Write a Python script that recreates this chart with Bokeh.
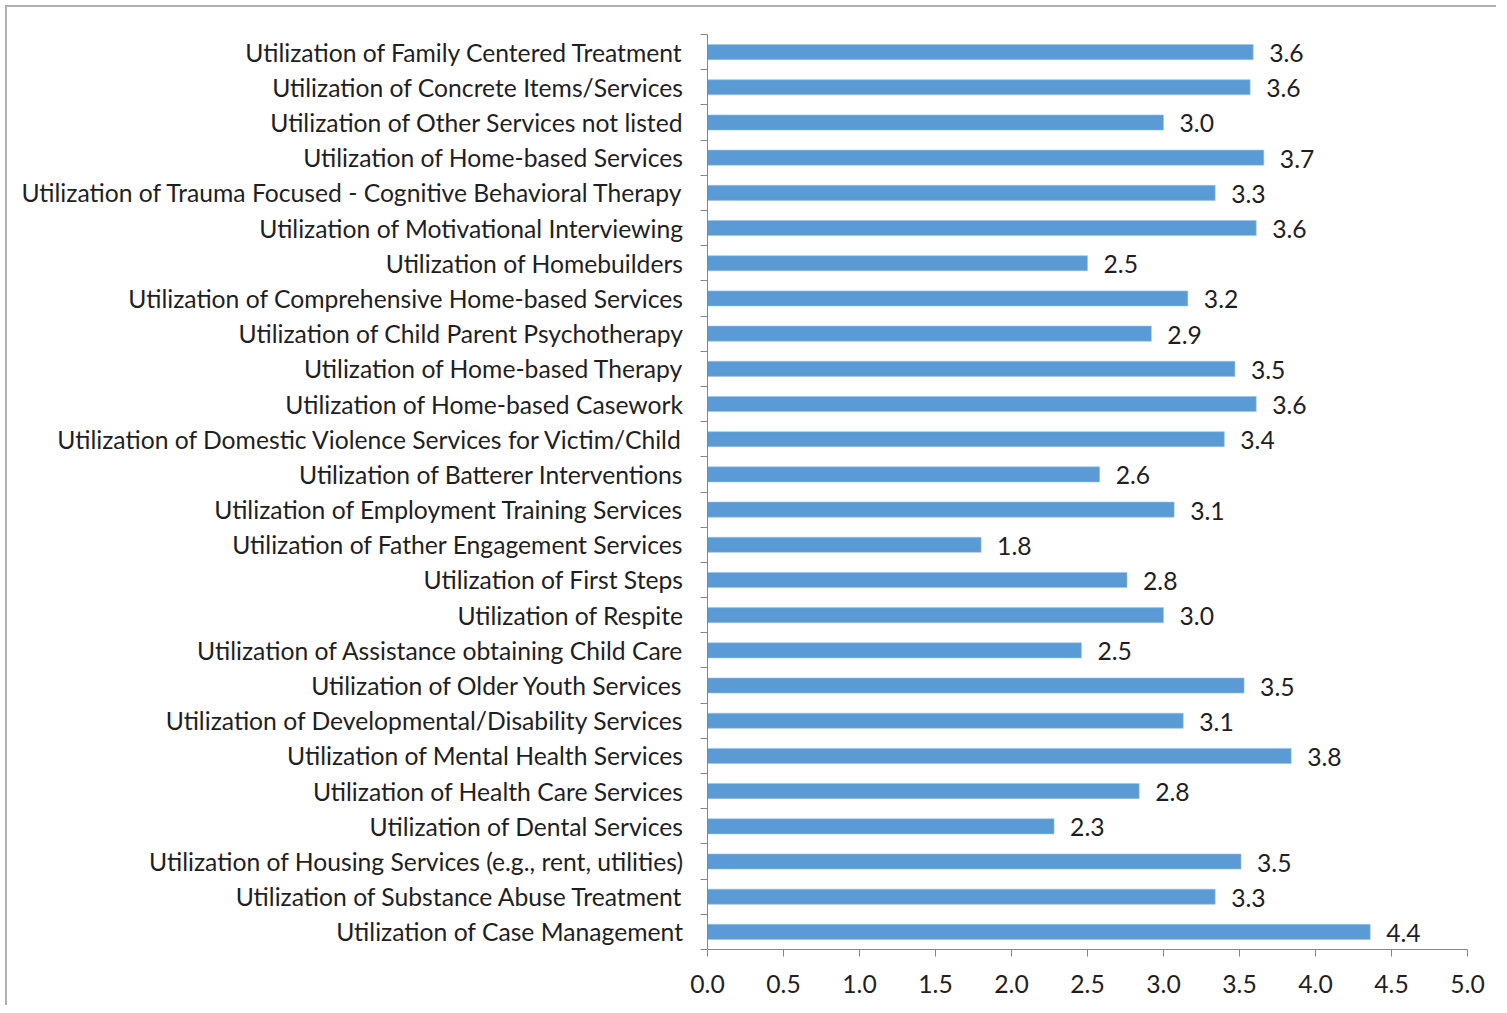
from bokeh.plotting import figure
from bokeh.models import ColumnDataSource, FixedTicker, Range1d
from bokeh.embed import file_html
from bokeh.resources import INLINE
from bokeh.core.properties import value

# Categories listed bottom to top
categories = [
    "Utilization of Case Management",
    "Utilization of Substance Abuse Treatment",
    "Utilization of Housing Services (e.g., rent, utilities)",
    "Utilization of Dental Services",
    "Utilization of Health Care Services",
    "Utilization of Mental Health Services",
    "Utilization of Developmental/Disability Services",
    "Utilization of Older Youth Services",
    "Utilization of Assistance obtaining Child Care",
    "Utilization of Respite",
    "Utilization of First Steps",
    "Utilization of Father Engagement Services",
    "Utilization of Employment Training Services",
    "Utilization of Batterer Interventions",
    "Utilization of Domestic Violence Services for Victim/Child",
    "Utilization of Home-based Casework",
    "Utilization of Home-based Therapy",
    "Utilization of Child Parent Psychotherapy",
    "Utilization of Comprehensive Home-based Services",
    "Utilization of Homebuilders",
    "Utilization of Motivational Interviewing",
    "Utilization of Trauma Focused - Cognitive Behavioral Therapy",
    "Utilization of Home-based Services",
    "Utilization of Other Services not listed",
    "Utilization of Concrete Items/Services",
    "Utilization of Family Centered Treatment",
]
values = [4.36, 3.34, 3.51, 2.28, 2.84, 3.84, 3.13, 3.53, 2.46, 3.00,
          2.76, 1.80, 3.07, 2.58, 3.40, 3.61, 3.47, 2.92, 3.16, 2.50,
          3.61, 3.34, 3.66, 3.00, 3.57, 3.59]
x_ticks = [0.0, 0.5, 1.0, 1.5, 2.0, 2.5, 3.0, 3.5, 4.0, 4.5, 5.0]

n = len(categories)
ypos = [i + 0.5 for i in range(n)]
labels = [f"{v:.1f}" for v in values]
src = ColumnDataSource(dict(y=ypos, v=values, lab=labels))

FONT = "Lato"
FS = "24.7px"
TXT = "#1f1f1f"
AX = "#868686"

p = figure(width=1491, height=1000, output_backend="svg", toolbar_location=None,
           x_range=Range1d(0, 5), y_range=Range1d(0, n),
           min_border_left=700, min_border_right=31, min_border_top=27,
           min_border_bottom=58)
p.styles = {"border-top": "2px solid #b0b0b0", "border-left": "2px solid #b0b0b0",
            "margin-left": "5px", "margin-top": "5px"}
p.outline_line_color = None
p.xgrid.grid_line_color = None
p.ygrid.grid_line_color = None

p.hbar(y="y", right="v", left=0, height=0.43, source=src,
       fill_color="#5B9BD5", line_color="#9cc3e6", line_width=0.6)
p.text(x="v", y="y", text="lab", source=src, x_offset=16, y_offset=1,
       text_align="left", text_baseline="middle",
       text_font=value(FONT), text_font_size=FS, text_color=TXT)

# x axis
xa = p.xaxis[0]
xa.ticker = FixedTicker(ticks=x_ticks)
xa.major_label_overrides = {t: f"{t:.1f}" for t in x_ticks}
xa.axis_line_color = AX
xa.major_tick_line_color = AX
xa.major_tick_out = 7
xa.major_tick_in = 0
xa.minor_tick_line_color = None
xa.major_label_standoff = 18
xa.major_label_text_font = FONT
xa.major_label_text_font_size = FS
xa.major_label_text_color = TXT

# y axis: labels at centers, ticks at boundaries
ya = p.yaxis[0]
ya.ticker = FixedTicker(ticks=ypos, minor_ticks=list(range(n + 1)))
ya.major_label_overrides = {y: c for y, c in zip(ypos, categories)}
ya.axis_line_color = AX
ya.major_tick_line_color = None
ya.major_tick_out = 0
ya.major_tick_in = 0
ya.minor_tick_line_color = AX
ya.minor_tick_out = 7
ya.minor_tick_in = 0
ya.major_label_standoff = 17
ya.major_label_text_font = FONT
ya.major_label_text_font_size = FS
ya.major_label_text_color = TXT

open("out.html", "w").write(file_html(p, INLINE))
